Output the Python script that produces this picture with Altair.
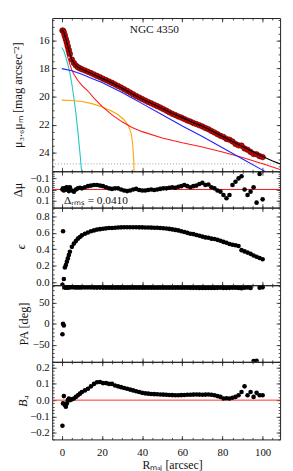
import altair as alt
import pandas as pd

# ---------------- data ----------------
R = [0.3, 0.6, 1.0, 1.5, 2.0, 2.5, 3.0, 3.5, 4.0, 5.0,
     6.0, 7.0, 8.0, 9.0, 10.0, 11.5, 13.0, 14.5, 16.0, 17.5,
     19.0, 20.5, 22.0, 23.5, 25.0, 26.5, 28.0, 29.5, 31.0, 32.5,
     34.0, 35.5, 37.0, 38.5, 40.0, 41.5, 43.0, 44.5, 46.0, 47.5,
     49.0, 50.5, 52.0, 53.5, 55.0, 56.5, 58.0, 59.5, 61.0, 62.5,
     64.0, 65.5, 67.0, 68.5, 70.0, 71.5, 73.0, 74.5, 76.0, 77.5,
     79.0, 80.5, 82.0, 83.5, 85.0, 86.5, 88.0, 89.5, 91.0, 92.5,
     94.0, 95.5, 97.0, 98.5, 100.0]

MU = [15.28, 15.30, 15.42, 15.62, 15.88, 16.12, 16.40, 16.68, 16.95, 17.35,
      17.60, 17.78, 17.90, 17.98, 18.05, 18.13, 18.22, 18.32, 18.42, 18.52,
      18.62, 18.72, 18.82, 18.92, 19.02, 19.13, 19.24, 19.35, 19.47, 19.59,
      19.71, 19.83, 19.95, 20.06, 20.17, 20.28, 20.38, 20.48, 20.58, 20.68,
      20.78, 20.89, 21.00, 21.12, 21.23, 21.32, 21.42, 21.50, 21.60, 21.70,
      21.78, 21.88, 21.96, 22.05, 22.13, 22.24, 22.33, 22.45, 22.56, 22.68,
      22.80, 22.88, 23.02, 23.08, 23.20, 23.38, 23.48, 23.50, 23.70, 23.80,
      23.95, 24.10, 24.12, 24.25, 24.32]

DMU = [0.00, -0.01, 0.01, 0.00, -0.015, -0.02, 0.005, 0.015, -0.02, 0.01,
       0.02, 0.00, -0.01, -0.015, -0.01, -0.02, -0.03, -0.035, -0.04, -0.04,
       -0.035, -0.03, -0.02, -0.01, -0.005, -0.01, -0.01, 0.00, 0.01, 0.015,
       0.01, 0.00, -0.005, 0.005, 0.01, 0.01, 0.005, 0.00, 0.005, 0.00,
       -0.005, -0.01, -0.01, -0.015, -0.02, -0.015, -0.025, -0.03, -0.04, -0.03,
       -0.02, -0.03, -0.035, -0.05, -0.06, -0.04, -0.045, -0.02, -0.01, 0.01,
       0.02, 0.05, 0.08, 0.05, -0.04, -0.07, -0.10, -0.12, 0.00, 0.05,
       0.02, -0.02, 0.12, -0.14, 0.09]

EPS = [-0.03, 0.62, 0.04, 0.18, 0.21, 0.25, 0.29, 0.33, 0.37, 0.43,
       0.47, 0.50, 0.53, 0.55, 0.57, 0.59, 0.605, 0.62, 0.63, 0.64,
       0.645, 0.65, 0.655, 0.66, 0.66, 0.663, 0.665, 0.667, 0.668, 0.668,
       0.668, 0.668, 0.668, 0.667, 0.667, 0.666, 0.665, 0.664, 0.663, 0.662,
       0.66, 0.657, 0.653, 0.648, 0.642, 0.636, 0.63, 0.62, 0.61, 0.60,
       0.59, 0.585, 0.575, 0.565, 0.555, 0.545, 0.54, 0.53, 0.525, 0.515,
       0.505, 0.49, 0.48, 0.465, 0.455, 0.45, 0.44, 0.39, 0.375, 0.36,
       0.345, 0.325, 0.31, 0.295, 0.28]

PA = [-25.0, 0.0, -4.0, 86.8, 87.0, 87.2, 87.3, 87.4, 87.4, 87.5,
      87.4, 87.3, 87.2, 87.1, 87.0, 87.0, 86.9, 86.9, 86.8, 86.8,
      86.8, 86.8, 86.7, 86.7, 86.7, 86.7, 86.7, 86.6, 86.6, 86.6,
      86.6, 86.6, 86.6, 86.6, 86.6, 86.6, 86.6, 86.5, 86.5, 86.5,
      86.5, 86.5, 86.5, 86.4, 86.4, 86.4, 86.4, 86.3, 86.3, 86.3,
      86.2, 86.2, 86.2, 86.1, 86.1, 86.0, 86.0, 86.0, 86.1, 86.2,
      86.3, 86.0, 85.8, 86.2, 86.4, 86.6, 86.0, 85.5, 86.5, 87.0,
      86.0, -89.0, -88.5, 86.5, 87.5]

B4 = [-0.158, -0.02, 0.025, -0.03, -0.04, -0.02, 0.00, 0.01, 0.00, 0.005,
      0.01, 0.02, 0.03, 0.04, 0.05, 0.06, 0.07, 0.085, 0.10, 0.11,
      0.112, 0.105, 0.105, 0.10, 0.10, 0.09, 0.085, 0.08, 0.075, 0.07,
      0.065, 0.06, 0.055, 0.05, 0.045, 0.042, 0.04, 0.038, 0.037, 0.036,
      0.035, 0.034, 0.033, 0.032, 0.031, 0.03, 0.03, 0.031, 0.032, 0.033,
      0.033, 0.034, 0.035, 0.034, 0.033, 0.034, 0.035, 0.033, 0.03, 0.025,
      0.02, 0.01, 0.012, 0.01, 0.015, 0.02, 0.03, 0.05, 0.085, 0.03,
      0.05, 0.02, 0.045, 0.03, 0.03]

# total model (black)
MODEL_R = [0, 0.5, 1, 2, 3, 4, 5, 6, 7, 8, 10, 12, 15, 20, 25, 30, 35, 40,
           45, 50, 55, 60, 65, 70, 75, 80, 85, 90, 95, 100, 105, 108.7]
MODEL_MU = [15.25, 15.3, 15.42, 15.88, 16.4, 16.95, 17.35, 17.6, 17.78, 17.9,
            18.05, 18.17, 18.37, 18.7, 19.02, 19.4, 19.8, 20.17, 20.51, 20.85,
            21.2, 21.5, 21.83, 22.12, 22.48, 22.84, 23.2, 23.56, 23.92, 24.28,
            24.6, 24.8]
# bulge (red)
BULGE_R = [0, 1, 2, 3, 4, 5, 6, 8, 10, 13, 16, 20, 25, 30, 35, 40, 50, 60,
           70, 80, 90, 100, 108.7]
BULGE_MU = [15.6, 16.0, 16.6, 17.2, 17.7, 18.1, 18.4, 18.85, 19.2, 19.6, 20.1,
            20.7, 21.3, 21.8, 22.2, 22.5, 22.95, 23.3, 23.6, 23.95, 24.35,
            24.8, 25.2]
# disc (blue)
DISK_R = [0, 5, 10, 15, 20, 25, 30, 35, 40, 50, 60, 70, 80, 90, 100, 102]
DISK_MU = [18.0, 18.15, 18.4, 18.7, 19.0, 19.35, 19.7, 20.1, 20.5, 21.3, 22.1,
           22.85, 23.65, 24.45, 25.25, 25.4]
# bar (orange)
BAR_R = [0, 5, 10, 15, 20, 25, 28, 31, 33, 34.5, 35.3, 35.8, 36.0]
BAR_MU = [20.25, 20.28, 20.35, 20.5, 20.72, 21.05, 21.3, 21.65, 22.05, 22.6,
          23.4, 24.5, 25.5]
# nucleus (cyan)
NUC_R = [0, 1, 2, 3, 4, 5, 6, 7, 8, 9, 10]
NUC_MU = [16.5, 16.75, 17.2, 17.7, 18.3, 19.1, 20.1, 21.2, 22.5, 24.0, 25.6]

SKY_MU = [24.8]
ZERO = [0.0]
GALAXY = "NGC 4350"
RMS_TEXT = "Δᵣₘₛ = 0.0410"

# ---------------- layout ----------------
FONT = "Liberation Serif"
W = 232
X_DOMAIN = [-4.8, 108.7]
PLOT_LEFT = 52
MAJ, MIN = 4, 2
PT = 22

XS = alt.Scale(domain=X_DOMAIN, nice=False, zero=False)


def axis_layers(ys, ymajor, yminor, yfmt, ytitle, title_cx, h, bottom,
                italic=False):
    dummy = pd.DataFrame({"x": [X_DOMAIN[0] + 1], "y": [ys.domain[0]]})
    base = alt.Chart(dummy).mark_point(opacity=0)
    common = dict(domain=False, grid=False, tickColor="#222", tickWidth=0.8,
                  title=None, labels=False)
    out = []
    for orient in ["left", "right"]:
        for vals, size in [(ymajor, MAJ), (yminor, MIN)]:
            kw = dict(common)
            kw.update(orient=orient, values=vals, tickSize=size, offset=-size)
            if orient == "left" and size == MAJ:
                kw.update(labels=True, format=yfmt, labelPadding=3,
                          labelFont=FONT, labelFontSize=11, labelColor="#111",
                          title=ytitle, titleFont=FONT, titleFontSize=12.5,
                          titleFontWeight="normal", titleColor="#111",
                          titleFontStyle="italic" if italic else "normal",
                          titleX=title_cx - PLOT_LEFT - size, titleY=h / 2,
                          titleAngle=270, titleAlign="center",
                          titleBaseline="middle")
            out.append(base.encode(
                x=alt.X("x:Q", scale=XS, axis=None),
                y=alt.Y("y:Q", scale=ys, axis=alt.Axis(**kw))))
    for orient in ["bottom", "top"]:
        for vals, size in [(list(range(0, 101, 20)), MAJ), (list(range(-5, 110, 5)), MIN)]:
            kw = dict(common)
            kw.update(orient=orient, values=vals, tickSize=size, offset=-size)
            if bottom and orient == "bottom" and size == MAJ:
                kw.update(labels=True, format="d", labelPadding=7,
                          labelFont=FONT, labelFontSize=11, labelColor="#111",
                          title="Rₘₐⱼ [arcsec]", titleFont=FONT,
                          titleFontSize=12, titleFontWeight="normal",
                          titleColor="#111", titleX=122, titleY=25.5 + size,
                          titleBaseline="middle", titleAlign="center")
            out.append(base.encode(
                x=alt.X("x:Q", scale=XS, axis=alt.Axis(**kw)),
                y=alt.Y("y:Q", scale=ys, axis=None)))
    return out


def xy(xf, yf, ys):
    return dict(x=alt.X(f"{xf}:Q", scale=XS, axis=None),
                y=alt.Y(f"{yf}:Q", scale=ys, axis=None))


iso = pd.DataFrame({"R": R, "mu": MU, "dmu": DMU, "eps": EPS, "pa": PA, "b4": B4})
sky = pd.DataFrame({"R": [X_DOMAIN[0], X_DOMAIN[1]], "y": SKY_MU * 2})
model = pd.DataFrame({"R": MODEL_R, "mu": MODEL_MU})
bulge = pd.DataFrame({"R": BULGE_R, "mu": BULGE_MU})
disk = pd.DataFrame({"R": DISK_R, "mu": DISK_MU})
bar = pd.DataFrame({"R": BAR_R, "mu": BAR_MU})
nuc = pd.DataFrame({"R": NUC_R, "mu": NUC_MU})
zero = pd.DataFrame({"R": [X_DOMAIN[0], X_DOMAIN[1]], "y": ZERO * 2})
lbl = pd.DataFrame({"t": [GALAXY]})
rms = pd.DataFrame({"t": [RMS_TEXT]})

# ---- panel 1: surface brightness ----
ys1 = alt.Scale(domain=[14.39, 25.33], nice=False, zero=False, reverse=True)
h1 = 156
p1_layers = [
    alt.Chart(sky).mark_line(color="#888", strokeDash=[1, 2], strokeWidth=0.8)
    .encode(**xy("R", "y", ys1)),
    alt.Chart(nuc).mark_line(color="#22c4c4", strokeWidth=1.1, clip=True)
    .encode(**xy("R", "mu", ys1)),
    alt.Chart(bar).mark_line(color="#ffa500", strokeWidth=1.1, clip=True)
    .encode(**xy("R", "mu", ys1)),
    alt.Chart(bulge).mark_line(color="#ff1a1a", strokeWidth=1.1, clip=True)
    .encode(**xy("R", "mu", ys1)),
    alt.Chart(disk).mark_line(color="#2020ff", strokeWidth=1.1, clip=True)
    .encode(**xy("R", "mu", ys1)),
    alt.Chart(iso).mark_point(filled=True, fill="#cc0000", stroke="#550000",
                              strokeWidth=0.6, size=32, opacity=1, clip=True)
    .encode(**xy("R", "mu", ys1)),
    alt.Chart(model).mark_line(color="black", strokeWidth=1.2, clip=True)
    .encode(**xy("R", "mu", ys1)),
    alt.Chart(lbl).mark_text(font=FONT, fontSize=11.5, color="#111",
                             align="center", baseline="middle")
    .encode(text="t:N", x=alt.value(104), y=alt.value(12)),
]
p1 = alt.layer(*p1_layers, *axis_layers(ys1, [16, 18, 20, 22, 24],
                                        [x / 2 for x in range(29, 51)], "d",
                                        "μ₃.₆μₘ [mag arcsec⁻²]", 17, h1, False)
               ).resolve_axis(x="independent", y="independent").properties(width=W, height=h1)

# ---- panel 2: residuals ----
ys2 = alt.Scale(domain=[-0.165, 0.165], nice=False, zero=False, reverse=True)
h2 = 37
p2_layers = [
    alt.Chart(zero).mark_line(color="#ee1111", strokeWidth=1)
    .encode(**xy("R", "y", ys2)),
    alt.Chart(iso).mark_circle(color="black", size=PT, opacity=1, clip=True)
    .encode(**xy("R", "dmu", ys2)),
    alt.Chart(rms).mark_text(font=FONT, fontSize=11.5, color="#111",
                             align="left", baseline="alphabetic")
    .encode(text="t:N", x=alt.value(12), y=alt.value(33)),
]
p2 = alt.layer(*p2_layers, *axis_layers(ys2, [-0.1, 0.0, 0.1],
                                        [round(-0.16 + 0.02 * i, 2) for i in range(17)],
                                        ".1f", "Δμ", 17, h2, False)
               ).resolve_axis(x="independent", y="independent").properties(width=W, height=h2)

# ---- panel 3: ellipticity ----
ys3 = alt.Scale(domain=[-0.036, 0.907], nice=False, zero=False)
h3 = 79
p3 = alt.layer(
    alt.Chart(iso).mark_circle(color="black", size=PT, opacity=1, clip=True)
    .encode(**xy("R", "eps", ys3)),
    *axis_layers(ys3, [0.0, 0.2, 0.4, 0.6, 0.8],
                 [round(0.05 * i, 2) for i in range(19)], ".1f", "ϵ", 20, h3,
                 False, italic=True)
).resolve_axis(x="independent", y="independent").properties(width=W, height=h3)

# ---- panel 4: position angle ----
ys4 = alt.Scale(domain=[-91, 92.5], nice=False, zero=False)
h4 = 78
p4 = alt.layer(
    alt.Chart(iso).mark_circle(color="black", size=PT, opacity=1, clip=True)
    .encode(**xy("R", "pa", ys4)),
    *axis_layers(ys4, [-50, 0, 50], list(range(-90, 91, 10)), "d",
                 "PA [deg]", 23, h4, False)
).resolve_axis(x="independent", y="independent").properties(width=W, height=h4)

# ---- panel 5: B4 ----
ys5 = alt.Scale(domain=[-0.242, 0.236], nice=False, zero=False)
h5 = 79
p5 = alt.layer(
    alt.Chart(zero).mark_line(color="#ff3030", strokeWidth=1)
    .encode(**xy("R", "y", ys5)),
    alt.Chart(iso).mark_circle(color="black", size=PT, opacity=1, clip=True)
    .encode(**xy("R", "b4", ys5)),
    *axis_layers(ys5, [-0.2, -0.1, 0.0, 0.1, 0.2],
                 [round(-0.24 + 0.02 * i, 2) for i in range(25)], ".1f",
                 "B₄", 22, h5, True, italic=True)
).resolve_axis(x="independent", y="independent").properties(width=W, height=h5)

chart = alt.vconcat(p1, p2, p3, p4, p5, spacing=0, bounds="flush").properties(
    padding={"left": 3, "top": 2, "right": 2, "bottom": 0},
    background="white",
).configure_view(stroke="#222", strokeWidth=1)

chart.save("out.html", embed_options={"renderer": "svg", "actions": False})
